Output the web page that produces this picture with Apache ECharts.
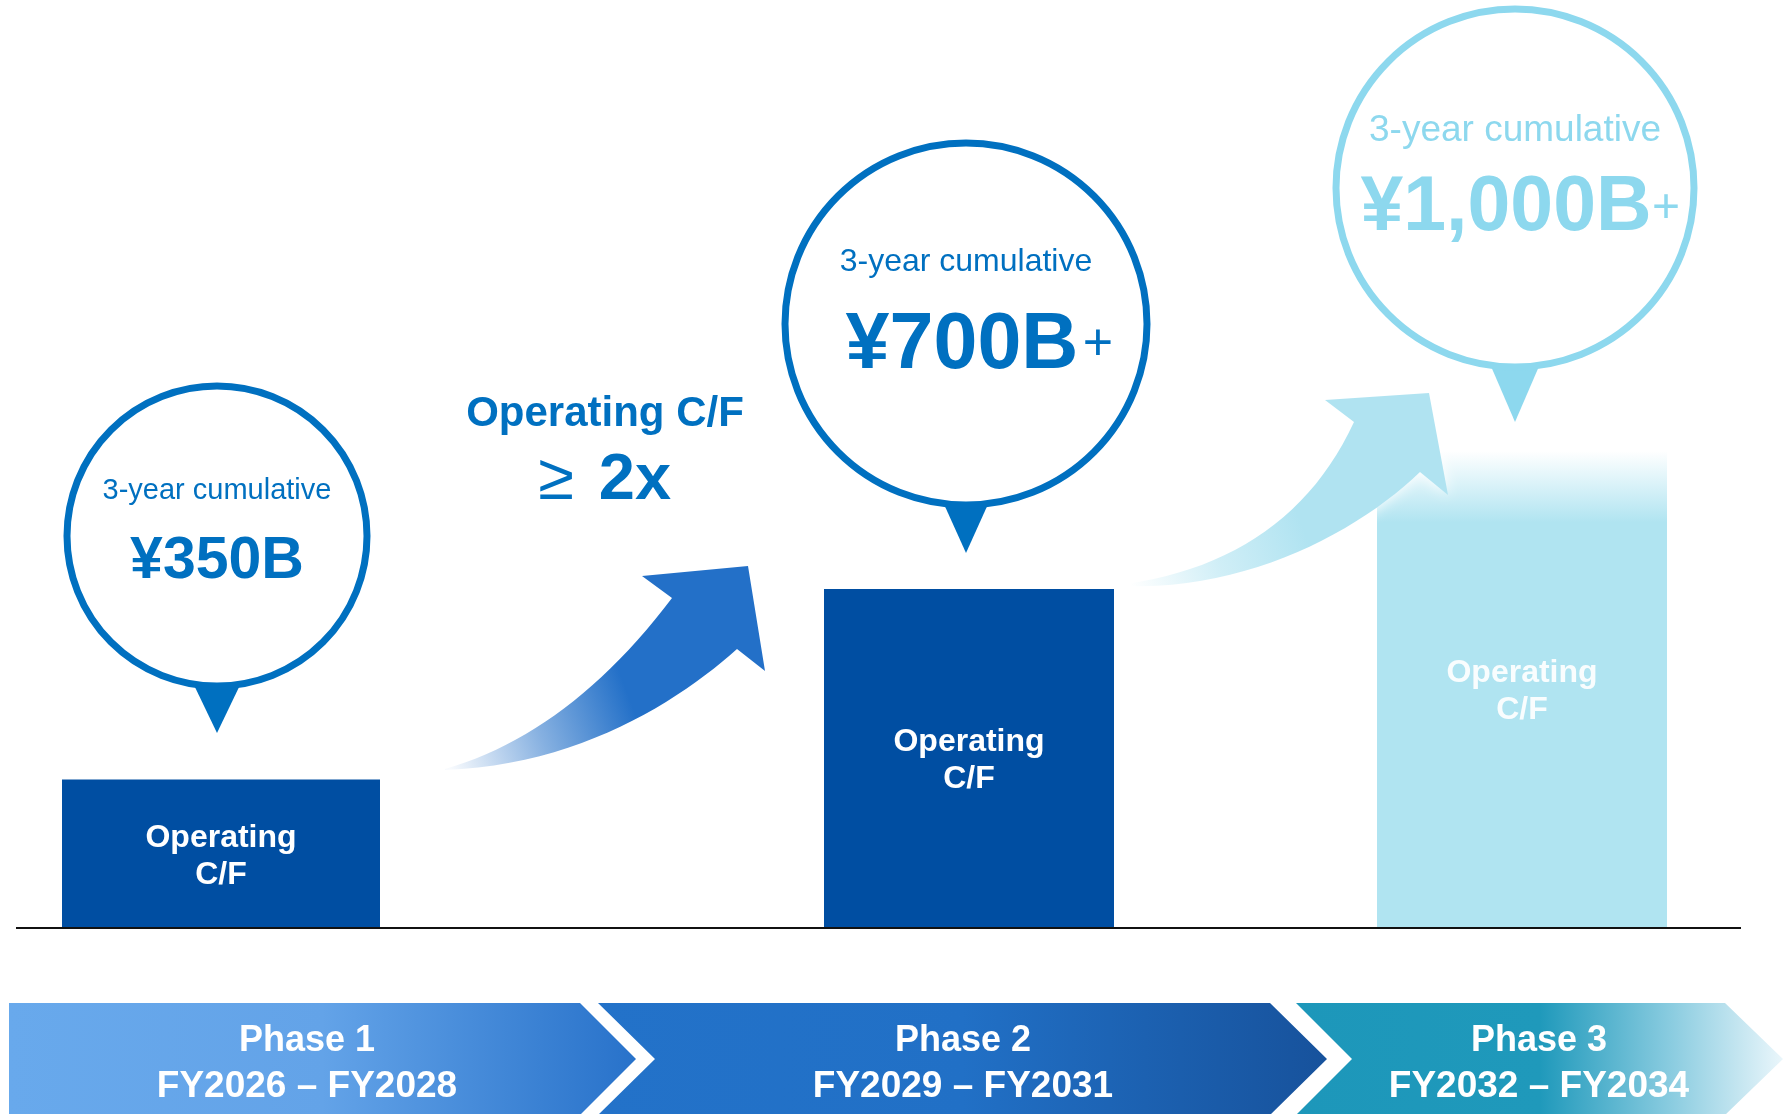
<!DOCTYPE html>
<html>
<head>
<meta charset="utf-8">
<title>Operating C/F roadmap</title>
<script src="https://cdn.jsdelivr.net/npm/echarts@6/dist/echarts.min.js"></script>
<style>
  html, body { margin: 0; padding: 0; background: #fff; }
  #main { width: 1788px; height: 1114px; }
</style>
</head>
<body>
<div id="main"></div>
<script>
// phases along the bottom
const phases = ["Phase 1", "Phase 2", "Phase 3"];
const periods = ["FY2026 – FY2028", "FY2029 – FY2031", "FY2032 – FY2034"];
// 3-year cumulative operating C/F
const amounts = ["¥350B", "¥700B", "¥1,000B"];
const amountSuffix = ["", "+", "+"];
// bar heights as drawn, % of the tallest bar
const barHeights = [31, 71, 100];
const barText = "Operating\nC/F";
const circleText = "3-year cumulative";
const growthText = ["Operating C/F", "≥", "2x"];

const FONT = '"Liberation Sans", Arial, Helvetica, sans-serif';
const BLUE = "#0070C0";
const NAVY = "#004EA2";
const SKY = "#8DD8EE";
const PALE = "#B0E4F1";

const baseY = 927;
const barTop = 451;
const bars = [
  { left: 62, width: 318 },
  { left: 824, width: 290 },
  { left: 1377, width: 290 },
];

// speech bubbles above the bars
const bubbles = [
  { cx: 217, cy: 536, r: 150, half: 24, tip: 733, color: BLUE, capY: 487, capSize: 29, amtX: 217, amtY: 558, amtSize: 59 },
  { cx: 966, cy: 324, r: 181, half: 23, tip: 553, color: BLUE, capY: 258, capSize: 32, amtX: 962, amtY: 342, amtSize: 79, plusX: 1098, plusSize: 52 },
  { cx: 1515, cy: 188, r: 179, half: 25, tip: 422, color: SKY, capY: 127, capSize: 37, amtX: 1506, amtY: 205, amtSize: 77, plusX: 1666, plusSize: 48 },
];

function quad(p0, c, p1, n) {
  const pts = [];
  for (let i = 0; i <= n; i++) {
    const t = i / n, u = 1 - t;
    pts.push([u * u * p0[0] + 2 * t * u * c[0] + t * t * p1[0],
              u * u * p0[1] + 2 * t * u * c[1] + t * t * p1[1]]);
  }
  return pts;
}
function cubic(p0, c1, c2, p1, n) {
  const pts = [];
  for (let i = 0; i <= n; i++) {
    const t = i / n, u = 1 - t;
    pts.push([u * u * u * p0[0] + 3 * u * u * t * c1[0] + 3 * u * t * t * c2[0] + t * t * t * p1[0],
              u * u * u * p0[1] + 3 * u * u * t * c1[1] + 3 * u * t * t * c2[1] + t * t * t * p1[1]]);
  }
  return pts;
}

// centred text; y is the visual middle of the caps, canvas "middle" sits a bit high
function txt(text, x, y, size, color, weight, z) {
  return {
    type: "text",
    z: z || 20,
    style: {
      text: text, x: x, y: y + 4,
      fill: color,
      font: (weight || "normal") + " " + size + "px " + FONT,
      textAlign: "center", textVerticalAlign: "middle",
      align: "center", verticalAlign: "middle",
    },
  };
}

const graphics = [];

// baseline
graphics.push({
  type: "line", z: 15,
  shape: { x1: 16, y1: baseY + 1, x2: 1741, y2: baseY + 1 },
  style: { stroke: "#111", lineWidth: 2 },
});

// curved arrows
const arrow1 = quad([445, 769], [570, 733], [672, 598], 24)
  .concat([[642, 576], [748, 566], [765, 671]])
  .concat(cubic([737, 649], [680, 700], [580, 765], [445, 770], 24));
graphics.push({
  type: "polygon", z: 10,
  shape: { points: arrow1 },
  style: {
    fill: new echarts.graphic.LinearGradient(450, 768, 630, 700, [
      { offset: 0, color: "rgba(35,112,200,0.03)" },
      { offset: 0.5, color: "rgba(35,112,200,0.55)" },
      { offset: 1, color: "#2370C8" },
    ], true),
  },
});
const arrow2 = quad([1126, 584], [1290, 560], [1354, 422], 24)
  .concat([[1325, 400], [1429, 393], [1448, 495]])
  .concat(cubic([1420, 472], [1360, 530], [1250, 590], [1126, 586], 24));
graphics.push({
  type: "polygon", z: 10,
  shape: { points: arrow2 },
  style: {
    fill: new echarts.graphic.LinearGradient(1130, 584, 1300, 520, [
      { offset: 0, color: "rgba(176,227,241,0)" },
      { offset: 0.5, color: "rgba(176,227,241,0.6)" },
      { offset: 1, color: "#B0E3F1" },
    ], true),
    shadowBlur: 14, shadowColor: "#ffffff",
  },
});

// growth note
graphics.push(txt(growthText[0], 605, 410, 42, BLUE, "bold"));
graphics.push(txt(growthText[1], 556, 477, 65, BLUE, "normal"));
graphics.push(txt(growthText[2], 635, 477, 65, BLUE, "bold"));

// bubbles
bubbles.forEach(function (b, i) {
  graphics.push({
    type: "polygon", z: 11,
    shape: { points: [[b.cx - b.half, b.cy + b.r - 3], [b.cx + b.half, b.cy + b.r - 3], [b.cx, b.tip]] },
    style: { fill: b.color },
  });
  graphics.push({
    type: "circle", z: 12,
    shape: { cx: b.cx, cy: b.cy, r: b.r },
    style: { fill: "#fff", stroke: b.color, lineWidth: 7 },
  });
  graphics.push(txt(circleText, b.cx, b.capY, b.capSize, b.color, "normal"));
  graphics.push(txt(amounts[i], b.amtX, b.amtY, b.amtSize, b.color, "bold"));
  if (amountSuffix[i]) graphics.push(txt(amountSuffix[i], b.plusX, b.amtY, b.plusSize, b.color, "normal"));
});

// phase chevrons
const chevrons = [
  { pts: [[9, 1003], [580, 1003], [636, 1059], [580, 1115], [9, 1115]], x1: 9, x2: 636,
    stops: [[0, "#68A9EC"], [0.5, "#63A3E8"], [1, "#2872CA"]], cx: 307 },
  { pts: [[598, 1003], [1270, 1003], [1327, 1059], [1270, 1115], [598, 1115], [655, 1059]], x1: 598, x2: 1327,
    stops: [[0, "#2372C9"], [0.5, "#2170C6"], [1, "#17529C"]], cx: 963 },
  { pts: [[1296, 1003], [1725, 1003], [1783, 1059], [1725, 1115], [1296, 1115], [1352, 1059]], x1: 1296, x2: 1783,
    stops: [[0, "#1D97BA"], [0.5, "#1F99BB"], [0.77, "#8ACCE0"], [1, "#EAF6FB"]], cx: 1539 },
];
chevrons.forEach(function (c, i) {
  graphics.push({
    type: "polygon", z: 5,
    shape: { points: c.pts },
    style: {
      fill: new echarts.graphic.LinearGradient(c.x1, 0, c.x2, 0,
        c.stops.map(function (s) { return { offset: s[0], color: s[1] }; }), true),
    },
  });
  graphics.push(txt(phases[i], c.cx, 1037, 36, "#fff", "bold"));
  graphics.push(txt(periods[i], c.cx, 1083, 37, "#fff", "bold"));
});

const barColors = [
  NAVY,
  NAVY,
  new echarts.graphic.LinearGradient(0, 0, 0, 1, [
    { offset: 0, color: "rgba(176,228,241,0)" },
    { offset: 0.15, color: PALE },
    { offset: 1, color: PALE },
  ]),
];

const option = {
  animation: false,
  backgroundColor: "#fff",
  grid: bars.map(function (b) {
    return { left: b.left, width: b.width, top: barTop, height: baseY - barTop };
  }),
  xAxis: bars.map(function (b, i) {
    return { type: "category", gridIndex: i, data: [phases[i]], show: false };
  }),
  yAxis: bars.map(function (b, i) {
    return { type: "value", gridIndex: i, min: 0, max: 100, show: false };
  }),
  series: bars.map(function (b, i) {
    return {
      type: "bar",
      xAxisIndex: i,
      yAxisIndex: i,
      data: [barHeights[i]],
      barWidth: "100%",
      itemStyle: { color: barColors[i] },
      label: {
        show: true,
        position: "inside",
        offset: [0, 3],
        formatter: barText,
        color: i === 2 ? "rgba(255,255,255,0.92)" : "#fff",
        fontFamily: FONT,
        fontWeight: "bold",
        fontSize: 32,
        lineHeight: 37,
      },
    };
  }),
  graphic: { elements: graphics },
};

const myChart = echarts.init(document.getElementById("main"));
myChart.setOption(option);
</script>
</body>
</html>
